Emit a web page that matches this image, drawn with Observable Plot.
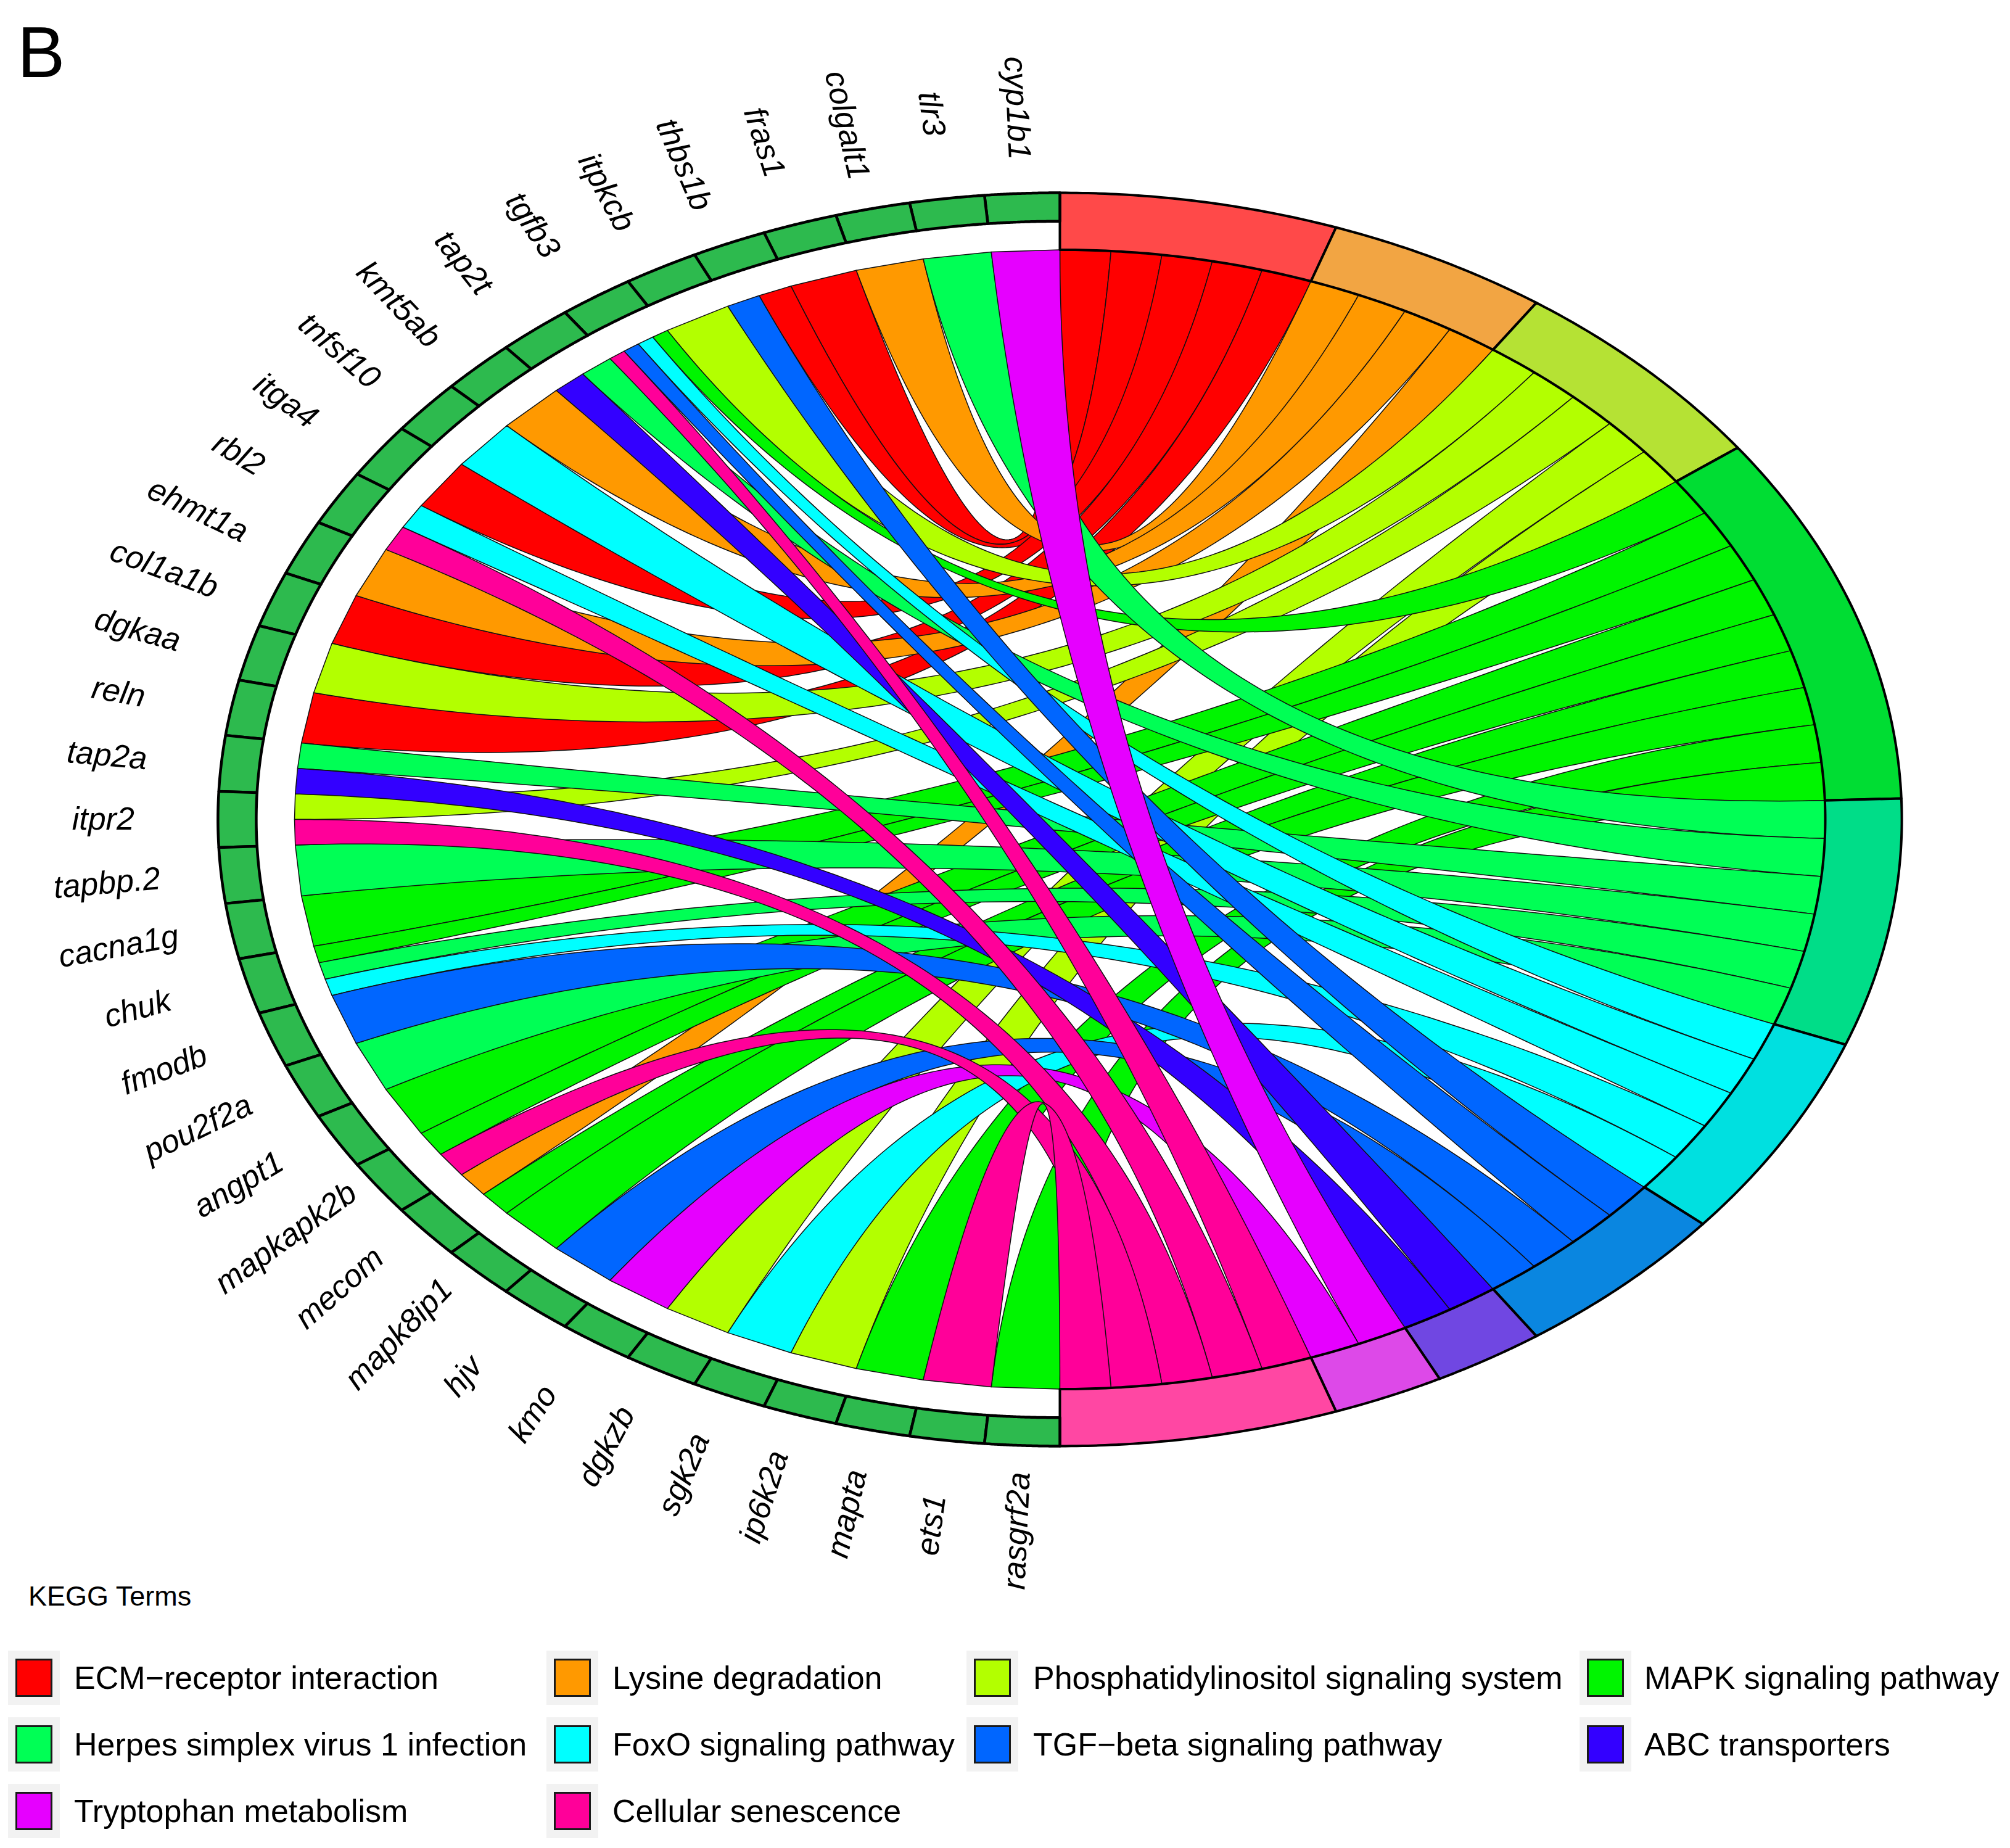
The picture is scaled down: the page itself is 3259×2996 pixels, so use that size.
<!DOCTYPE html>
<html>
<head>
<meta charset="utf-8">
<script src="https://cdn.jsdelivr.net/npm/d3@7"></script>
<script src="https://cdn.jsdelivr.net/npm/@observablehq/plot@0.6"></script>
<style>
  body { margin: 0; background: #ffffff; }
  #wrap { position: relative; width: 3259px; height: 2996px; overflow: hidden; font-family: "Liberation Sans", Arial, sans-serif; color: #000; }
  #chart { position: absolute; left: 0; top: 0; }
  .panel { position: absolute; left: 28px; top: 27px; font-size: 116px; line-height: 116px; }
  .ltitle { position: absolute; left: 46px; font-size: 45px; line-height: 45px; white-space: nowrap; }
  .kbg { position: absolute; width: 84px; height: 88px; background: #F2F2F2; }
  .ksq { position: absolute; width: 60px; height: 62px; box-sizing: border-box; border: 3px solid #1a1a1a; }
  .ltxt { position: absolute; font-size: 52px; line-height: 52px; white-space: nowrap; }
</style>
</head>
<body>
<div id="wrap">
  <div id="chart"></div>
  <div class="panel">B</div>
</div>
<script>
// ---------------- data ----------------
const genes = ["cyp1b1","tlr3","colgalt1","fras1","thbs1b","itpkcb","tgfb3","tap2t","kmt5ab","tnfsf10",
  "itga4","rbl2","ehmt1a","col1a1b","dgkaa","reln","tap2a","itpr2","tapbp.2","cacna1g","chuk","fmodb",
  "pou2f2a","angpt1","mapkapk2b","mecom","mapk8ip1","hjv","kmo","dgkzb","sgk2a","ip6k2a","mapta","ets1","rasgrf2a"];

const terms = ["ECM\u2212receptor interaction","Lysine degradation","Phosphatidylinositol signaling system",
  "MAPK signaling pathway","Herpes simplex virus 1 infection","FoxO signaling pathway",
  "TGF\u2212beta signaling pathway","ABC transporters","Tryptophan metabolism","Cellular senescence"];

const ribbonColors = ["#FF0000","#FF9900","#B3FF00","#00F500","#00FF55","#00FFFF","#0066FF","#3300FF","#E600FF","#FF0099"];
const ringColors   = ["#FF4949","#F2A543","#B5E234","#00DD33","#00DD88","#00E0E0","#0A86E0","#7047E2","#DD49E8","#FF47A3"];
const geneRingColor = "#2DBA4E";

const ecmGenes     = ["fras1","thbs1b","itga4","col1a1b","reln"];
const lysineGenes  = ["colgalt1","kmt5ab","ehmt1a","mecom"];
const piGenes      = ["itpkcb","dgkaa","itpr2","dgkzb","ip6k2a"];
const mapkGenes    = ["tgfb3","cacna1g","chuk","angpt1","mapkapk2b","mecom","mapk8ip1","mapta","rasgrf2a"];
const herpesGenes  = ["tlr3","tap2t","tap2a","tapbp.2","chuk","pou2f2a"];
const foxoGenes    = ["tgfb3","tnfsf10","rbl2","chuk","sgk2a"];
const tgfbGenes    = ["thbs1b","tgfb3","fmodb","hjv"];
const abcGenes     = ["tap2t","tap2a"];
const trpGenes     = ["cyp1b1","kmo"];
const cellGenes    = ["tgfb3","rbl2","itpr2","mapkapk2b","ets1"];

const termGenes = [ecmGenes, lysineGenes, piGenes, mapkGenes, herpesGenes, foxoGenes, tgfbGenes, abcGenes, trpGenes, cellGenes];

// ---------------- layout (GOChord style) ----------------
const W = 3259, H = 2600;
const cx = 1718, cy = 1328, ux = 1241, uy = 923.6;
const N = genes.length;
const counts = termGenes.map(a => a.length);
const total = d3.sum(counts);
const termStart = [];
{ let acc = 0; counts.forEach(c => { termStart.push(acc * Math.PI / total); acc += c; }); }
const termWidth = counts.map(c => Math.PI * c / total);
const geneTermIdx = genes.map(g => terms.map((t, i) => i).filter(i => termGenes[i].includes(g)));

const links = [];
terms.forEach((t, ti) => {
  const gs = termGenes[ti].slice().sort((a, b) => genes.indexOf(a) - genes.indexOf(b));
  gs.forEach((g, j) => {
    const gi = genes.indexOf(g);
    const k = geneTermIdx[gi].indexOf(ti);
    const n = geneTermIdx[gi].length;
    const a0 = -gi * Math.PI / N, a1 = -(gi + 1) * Math.PI / N;
    links.push({
      ti, gene: g,
      gHigh: a0 + (a1 - a0) * k / n,
      gLow: a0 + (a1 - a0) * (k + 1) / n,
      tS: termStart[ti] + termWidth[ti] * j / gs.length,
      tE: termStart[ti] + termWidth[ti] * (j + 1) / gs.length
    });
  });
});

const ribbonPts = [];
links.forEach((l, id) => {
  const c1 = [], c2 = [];
  for (let s = 0; s <= 100; s++) {
    const t = s / 100, a = (1 - t) * (1 - t), b = t * t;
    c1.push([a * Math.sin(l.tS) + b * Math.sin(l.gHigh), a * Math.cos(l.tS) + b * Math.cos(l.gHigh)]);
    c2.push([a * Math.sin(l.tE) + b * Math.sin(l.gLow), a * Math.cos(l.tE) + b * Math.cos(l.gLow)]);
  }
  c2.reverse();
  c1.concat(c2).forEach(([x, y]) => ribbonPts.push({id, x, y, color: ribbonColors[l.ti]}));
});

function ringPoly(id, s, e, r1, r2, color, out) {
  const n = 50;
  for (let i = 0; i <= n; i++) { const a = s + (e - s) * i / n; out.push({id, x: r1 * Math.sin(a), y: r1 * Math.cos(a), color}); }
  for (let i = n; i >= 0; i--) { const a = s + (e - s) * i / n; out.push({id, x: r2 * Math.sin(a), y: r2 * Math.cos(a), color}); }
}
const termRing = [];
terms.forEach((t, i) => ringPoly(i, termStart[i], termStart[i] + termWidth[i], 1, 1.1, ringColors[i], termRing));
const geneRing = [];
genes.forEach((g, i) => ringPoly(i, -i * Math.PI / N, -(i + 1) * Math.PI / N, 1.05, 1.1, geneRingColor, geneRing));

const labels = genes.map((g, i) => {
  const m = -(i + 0.5) * Math.PI / N;
  return {text: g, x: 1.25 * Math.sin(m), y: 1.25 * Math.cos(m), rotate: 90 + m * 180 / Math.PI};
});

const chart = Plot.plot({
  width: W, height: H, margin: 0,
  x: {domain: [-cx / ux, (W - cx) / ux], axis: null},
  y: {domain: [-(H - cy) / uy, cy / uy], axis: null},
  color: {type: "identity"},
  marks: [
    Plot.line(ribbonPts, {x: "x", y: "y", z: "id", fill: "color", stroke: "#111", strokeWidth: 1.5, curve: "linear-closed"}),
    Plot.line(termRing, {x: "x", y: "y", z: "id", fill: "color", stroke: "#000", strokeWidth: 4, curve: "linear-closed"}),
    Plot.line(geneRing, {x: "x", y: "y", z: "id", fill: "color", stroke: "#000", strokeWidth: 4.5, curve: "linear-closed"}),
    Plot.text(labels, {x: "x", y: "y", text: "text", rotate: "rotate", fontSize: 52, fontStyle: "italic",
      fontFamily: "Liberation Sans, Arial, sans-serif", fill: "#000", textAnchor: "middle", lineAnchor: "middle"})
  ]
});
document.getElementById("chart").appendChild(chart);

// ---------------- legend ----------------
const wrap = document.getElementById("wrap");
const title = document.createElement("div");
title.className = "ltitle"; title.textContent = "KEGG Terms"; title.style.top = (2587 - 22) + "px";
wrap.appendChild(title);
const colKey = [25, 898, 1579, 2573], colText = [120, 993, 1675, 2666], rowY = [2720, 2828, 2936];
terms.forEach((t, i) => {
  const r = Math.floor(i / 4), c = i % 4, y = rowY[r];
  const bg = document.createElement("div"); bg.className = "kbg";
  bg.style.left = (colKey[c] - 12) + "px"; bg.style.top = (y - 44) + "px"; wrap.appendChild(bg);
  const sq = document.createElement("div"); sq.className = "ksq";
  sq.style.left = colKey[c] + "px"; sq.style.top = (y - 31) + "px"; sq.style.background = ribbonColors[i]; wrap.appendChild(sq);
  const tx = document.createElement("div"); tx.className = "ltxt"; tx.textContent = t;
  tx.style.left = colText[c] + "px"; tx.style.top = (y - 26) + "px"; wrap.appendChild(tx);
});
</script>
</body>
</html>
